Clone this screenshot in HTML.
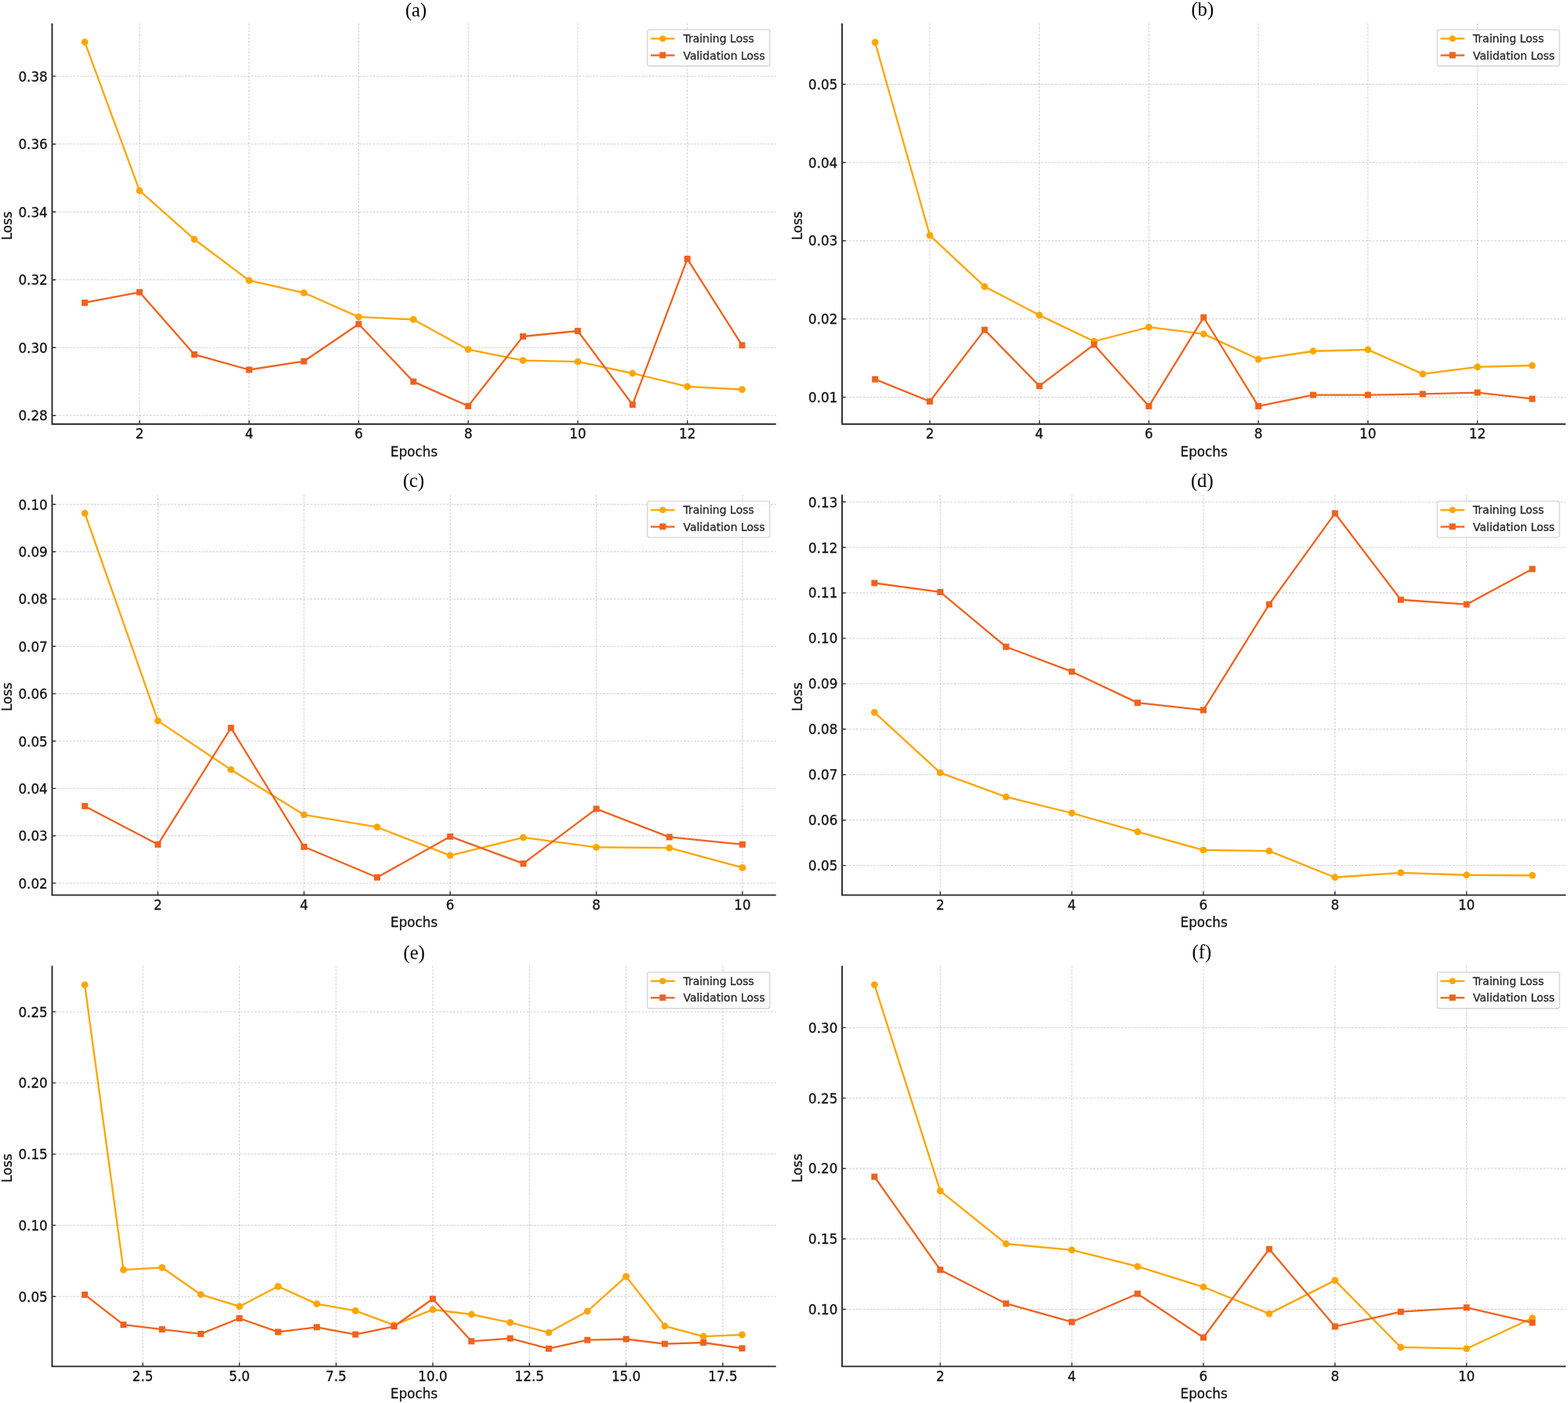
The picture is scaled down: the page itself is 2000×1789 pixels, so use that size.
<!DOCTYPE html>
<html><head><meta charset="utf-8"><title>Training and Validation Loss</title>
<style>
html,body{margin:0;padding:0;background:#fff;}
svg{display:block;}
.grid{fill:none;stroke:#c4c4c4;stroke-width:0.85;stroke-dasharray:2.7 1.75;}
.trl{fill:none;stroke:#FFA500;stroke-width:2.3;stroke-linejoin:round;stroke-linecap:square;}
.val{fill:none;stroke:#F0621E;stroke-width:2.3;stroke-linejoin:round;stroke-linecap:square;}
.trm{fill:#FFA500;}
.vam{fill:#F0621E;}
.spine{fill:none;stroke:#262626;stroke-width:1.9;stroke-linecap:butt;stroke-linejoin:miter;}
.tick{fill:none;stroke:#333333;stroke-width:1.4;}
.tl{font-family:"DejaVu Sans","Liberation Sans",sans-serif;font-size:16.8px;fill:#111111;stroke:#111111;stroke-width:0.3px;}
.al{font-family:"DejaVu Sans","Liberation Sans",sans-serif;font-size:16.8px;fill:#111111;stroke:#111111;stroke-width:0.3px;}
.lt{font-family:"DejaVu Sans","Liberation Sans",sans-serif;font-size:14.0px;fill:#262626;stroke:#262626;stroke-width:0.3px;}
.leg{fill:#fff;fill-opacity:0.8;stroke:#cccccc;stroke-width:1.1;}
.ti{font-family:"Liberation Serif","Times New Roman",serif;font-size:26px;fill:#000;}
</style></head>
<body>
<svg width="2000" height="1789" viewBox="0 0 2000 1789">
<defs><clipPath id="clipa"><rect x="66.45" y="29.75" width="923.35" height="511"/></clipPath><clipPath id="clipb"><rect x="1074.1" y="29.75" width="923.1" height="511"/></clipPath><clipPath id="clipc"><rect x="66.45" y="630.85" width="923.35" height="510.55"/></clipPath><clipPath id="clipd"><rect x="1074.1" y="630.85" width="923.1" height="510.55"/></clipPath><clipPath id="clipe"><rect x="66.45" y="1231.5" width="923.35" height="510.9"/></clipPath><clipPath id="clipf"><rect x="1074.1" y="1231.5" width="923.1" height="510.9"/></clipPath></defs>
<rect width="2000" height="1789" fill="#fff"/>
<path class="grid" d="M178 29.75V540.75M317.74 29.75V540.75M457.48 29.75V540.75M597.22 29.75V540.75M736.96 29.75V540.75M876.7 29.75V540.75M66.45 529.8H989.8M66.45 443.27H989.8M66.45 356.74H989.8M66.45 270.21H989.8M66.45 183.68H989.8M66.45 97.15H989.8"/>
<g clip-path="url(#clipa)"><path class="trl" d="M108.13 53.7L178 243.1L247.87 305.1L317.74 357.6L387.61 373.3L457.48 404.1L527.35 407.4L597.22 445.7L667.09 459.6L736.96 461.2L806.83 476L876.7 492.9L946.57 496.7"/>
<circle class="trm" cx="108.13" cy="53.7" r="4.4"/>
<circle class="trm" cx="178" cy="243.1" r="4.4"/>
<circle class="trm" cx="247.87" cy="305.1" r="4.4"/>
<circle class="trm" cx="317.74" cy="357.6" r="4.4"/>
<circle class="trm" cx="387.61" cy="373.3" r="4.4"/>
<circle class="trm" cx="457.48" cy="404.1" r="4.4"/>
<circle class="trm" cx="527.35" cy="407.4" r="4.4"/>
<circle class="trm" cx="597.22" cy="445.7" r="4.4"/>
<circle class="trm" cx="667.09" cy="459.6" r="4.4"/>
<circle class="trm" cx="736.96" cy="461.2" r="4.4"/>
<circle class="trm" cx="806.83" cy="476" r="4.4"/>
<circle class="trm" cx="876.7" cy="492.9" r="4.4"/>
<circle class="trm" cx="946.57" cy="496.7" r="4.4"/>
</g>
<g clip-path="url(#clipa)"><path class="val" d="M108.13 386L178 372.6L247.87 452L317.74 471.5L387.61 460.7L457.48 413.3L527.35 486.6L597.22 517.8L667.09 429L736.96 422L806.83 516L876.7 330.1L946.57 440.3"/>
<rect class="vam" x="104.13" y="382" width="8.0" height="8.0"/>
<rect class="vam" x="174" y="368.6" width="8.0" height="8.0"/>
<rect class="vam" x="243.87" y="448" width="8.0" height="8.0"/>
<rect class="vam" x="313.74" y="467.5" width="8.0" height="8.0"/>
<rect class="vam" x="383.61" y="456.7" width="8.0" height="8.0"/>
<rect class="vam" x="453.48" y="409.3" width="8.0" height="8.0"/>
<rect class="vam" x="523.35" y="482.6" width="8.0" height="8.0"/>
<rect class="vam" x="593.22" y="513.8" width="8.0" height="8.0"/>
<rect class="vam" x="663.09" y="425" width="8.0" height="8.0"/>
<rect class="vam" x="732.96" y="418" width="8.0" height="8.0"/>
<rect class="vam" x="802.83" y="512" width="8.0" height="8.0"/>
<rect class="vam" x="872.7" y="326.1" width="8.0" height="8.0"/>
<rect class="vam" x="942.57" y="436.3" width="8.0" height="8.0"/>
</g>
<path class="spine" d="M66.45 29.75V540.75H989.8"/>
<path class="tick" d="M178 540.75v-4.8M317.74 540.75v-4.8M457.48 540.75v-4.8M597.22 540.75v-4.8M736.96 540.75v-4.8M876.7 540.75v-4.8M66.45 529.8h4.6M66.45 443.27h4.6M66.45 356.74h4.6M66.45 270.21h4.6M66.45 183.68h4.6M66.45 97.15h4.6"/>
<text class="tl" x="178" y="558.95" text-anchor="middle">2</text>
<text class="tl" x="317.74" y="558.95" text-anchor="middle">4</text>
<text class="tl" x="457.48" y="558.95" text-anchor="middle">6</text>
<text class="tl" x="597.22" y="558.95" text-anchor="middle">8</text>
<text class="tl" x="736.96" y="558.95" text-anchor="middle">10</text>
<text class="tl" x="876.7" y="558.95" text-anchor="middle">12</text>
<text class="tl" x="60.8" y="536.3" text-anchor="end">0.28</text>
<text class="tl" x="60.8" y="449.77" text-anchor="end">0.30</text>
<text class="tl" x="60.8" y="363.24" text-anchor="end">0.32</text>
<text class="tl" x="60.8" y="276.71" text-anchor="end">0.34</text>
<text class="tl" x="60.8" y="190.18" text-anchor="end">0.36</text>
<text class="tl" x="60.8" y="103.65" text-anchor="end">0.38</text>
<text class="al" x="528.12" y="581.75" text-anchor="middle">Epochs</text>
<text class="al" x="15.25" y="287.8" text-anchor="middle" transform="rotate(-90 15.25 287.8)">Loss</text>
<rect class="leg" x="825.8" y="37.95" width="156" height="46.2" rx="2.4" ry="2.4"/>
<path class="trl" style="stroke-linecap:butt" d="M830 49.25H860.6"/>
<circle class="trm" cx="845.3" cy="49.25" r="4.0"/>
<path class="val" style="stroke-linecap:butt" d="M830 70.55H860.6"/>
<rect class="vam" x="841.3" y="66.35" width="8.0" height="8.0"/>
<text class="lt" x="871.4" y="54.35">Training Loss</text>
<text class="lt" x="871.4" y="75.65">Validation Loss</text>
<path class="grid" d="M1186 29.75V540.75M1325.7 29.75V540.75M1465.4 29.75V540.75M1605.1 29.75V540.75M1744.8 29.75V540.75M1884.5 29.75V540.75M1074.1 506.45H1997.2M1074.1 406.7H1997.2M1074.1 306.95H1997.2M1074.1 207.2H1997.2M1074.1 107.45H1997.2"/>
<g clip-path="url(#clipb)"><path class="trl" d="M1116.15 53.85L1186 300.15L1255.85 365.45L1325.7 401.85L1395.55 435.25L1465.4 417.15L1535.25 425.85L1605.1 458.05L1674.95 447.75L1744.8 445.85L1814.65 476.85L1884.5 467.95L1954.35 466.05"/>
<circle class="trm" cx="1116.15" cy="53.85" r="4.4"/>
<circle class="trm" cx="1186" cy="300.15" r="4.4"/>
<circle class="trm" cx="1255.85" cy="365.45" r="4.4"/>
<circle class="trm" cx="1325.7" cy="401.85" r="4.4"/>
<circle class="trm" cx="1395.55" cy="435.25" r="4.4"/>
<circle class="trm" cx="1465.4" cy="417.15" r="4.4"/>
<circle class="trm" cx="1535.25" cy="425.85" r="4.4"/>
<circle class="trm" cx="1605.1" cy="458.05" r="4.4"/>
<circle class="trm" cx="1674.95" cy="447.75" r="4.4"/>
<circle class="trm" cx="1744.8" cy="445.85" r="4.4"/>
<circle class="trm" cx="1814.65" cy="476.85" r="4.4"/>
<circle class="trm" cx="1884.5" cy="467.95" r="4.4"/>
<circle class="trm" cx="1954.35" cy="466.05" r="4.4"/>
</g>
<g clip-path="url(#clipb)"><path class="val" d="M1116.15 483.65L1186 511.85L1255.85 420.65L1325.7 492.15L1395.55 439.45L1465.4 517.95L1535.25 404.75L1605.1 517.95L1674.95 503.65L1744.8 503.65L1814.65 502.45L1884.5 500.55L1954.35 508.55"/>
<rect class="vam" x="1112.15" y="479.65" width="8.0" height="8.0"/>
<rect class="vam" x="1182" y="507.85" width="8.0" height="8.0"/>
<rect class="vam" x="1251.85" y="416.65" width="8.0" height="8.0"/>
<rect class="vam" x="1321.7" y="488.15" width="8.0" height="8.0"/>
<rect class="vam" x="1391.55" y="435.45" width="8.0" height="8.0"/>
<rect class="vam" x="1461.4" y="513.95" width="8.0" height="8.0"/>
<rect class="vam" x="1531.25" y="400.75" width="8.0" height="8.0"/>
<rect class="vam" x="1601.1" y="513.95" width="8.0" height="8.0"/>
<rect class="vam" x="1670.95" y="499.65" width="8.0" height="8.0"/>
<rect class="vam" x="1740.8" y="499.65" width="8.0" height="8.0"/>
<rect class="vam" x="1810.65" y="498.45" width="8.0" height="8.0"/>
<rect class="vam" x="1880.5" y="496.55" width="8.0" height="8.0"/>
<rect class="vam" x="1950.35" y="504.55" width="8.0" height="8.0"/>
</g>
<path class="spine" d="M1074.1 29.75V540.75H1997.2"/>
<path class="tick" d="M1186 540.75v-4.8M1325.7 540.75v-4.8M1465.4 540.75v-4.8M1605.1 540.75v-4.8M1744.8 540.75v-4.8M1884.5 540.75v-4.8M1074.1 506.45h4.6M1074.1 406.7h4.6M1074.1 306.95h4.6M1074.1 207.2h4.6M1074.1 107.45h4.6"/>
<text class="tl" x="1186" y="558.95" text-anchor="middle">2</text>
<text class="tl" x="1325.7" y="558.95" text-anchor="middle">4</text>
<text class="tl" x="1465.4" y="558.95" text-anchor="middle">6</text>
<text class="tl" x="1605.1" y="558.95" text-anchor="middle">8</text>
<text class="tl" x="1744.8" y="558.95" text-anchor="middle">10</text>
<text class="tl" x="1884.5" y="558.95" text-anchor="middle">12</text>
<text class="tl" x="1068.45" y="512.95" text-anchor="end">0.01</text>
<text class="tl" x="1068.45" y="413.2" text-anchor="end">0.02</text>
<text class="tl" x="1068.45" y="313.45" text-anchor="end">0.03</text>
<text class="tl" x="1068.45" y="213.7" text-anchor="end">0.04</text>
<text class="tl" x="1068.45" y="113.95" text-anchor="end">0.05</text>
<text class="al" x="1535.65" y="581.75" text-anchor="middle">Epochs</text>
<text class="al" x="1022.9" y="287.8" text-anchor="middle" transform="rotate(-90 1022.9 287.8)">Loss</text>
<rect class="leg" x="1833.2" y="37.95" width="156" height="46.2" rx="2.4" ry="2.4"/>
<path class="trl" style="stroke-linecap:butt" d="M1837.4 49.25H1868"/>
<circle class="trm" cx="1852.7" cy="49.25" r="4.0"/>
<path class="val" style="stroke-linecap:butt" d="M1837.4 70.55H1868"/>
<rect class="vam" x="1848.7" y="66.35" width="8.0" height="8.0"/>
<text class="lt" x="1878.8" y="54.35">Training Loss</text>
<text class="lt" x="1878.8" y="75.65">Validation Loss</text>
<path class="grid" d="M201.4 630.85V1141.4M387.8 630.85V1141.4M574.2 630.85V1141.4M760.6 630.85V1141.4M947 630.85V1141.4M66.45 1126.1H989.8M66.45 1065.74H989.8M66.45 1005.38H989.8M66.45 945.01H989.8M66.45 884.65H989.8M66.45 824.29H989.8M66.45 763.92H989.8M66.45 703.56H989.8M66.45 643.2H989.8"/>
<g clip-path="url(#clipc)"><path class="trl" d="M108.2 654.5L201.4 919.1L294.6 981.4L387.8 1038.9L481 1054.7L574.2 1090.9L667.4 1067.8L760.6 1080.3L853.8 1081.2L947 1106.4"/>
<circle class="trm" cx="108.2" cy="654.5" r="4.4"/>
<circle class="trm" cx="201.4" cy="919.1" r="4.4"/>
<circle class="trm" cx="294.6" cy="981.4" r="4.4"/>
<circle class="trm" cx="387.8" cy="1038.9" r="4.4"/>
<circle class="trm" cx="481" cy="1054.7" r="4.4"/>
<circle class="trm" cx="574.2" cy="1090.9" r="4.4"/>
<circle class="trm" cx="667.4" cy="1067.8" r="4.4"/>
<circle class="trm" cx="760.6" cy="1080.3" r="4.4"/>
<circle class="trm" cx="853.8" cy="1081.2" r="4.4"/>
<circle class="trm" cx="947" cy="1106.4" r="4.4"/>
</g>
<g clip-path="url(#clipc)"><path class="val" d="M108.2 1027.9L201.4 1076.8L294.6 928.2L387.8 1079.8L481 1118.8L574.2 1066.7L667.4 1101.2L760.6 1031.4L853.8 1067.4L947 1076.8"/>
<rect class="vam" x="104.2" y="1023.9" width="8.0" height="8.0"/>
<rect class="vam" x="197.4" y="1072.8" width="8.0" height="8.0"/>
<rect class="vam" x="290.6" y="924.2" width="8.0" height="8.0"/>
<rect class="vam" x="383.8" y="1075.8" width="8.0" height="8.0"/>
<rect class="vam" x="477" y="1114.8" width="8.0" height="8.0"/>
<rect class="vam" x="570.2" y="1062.7" width="8.0" height="8.0"/>
<rect class="vam" x="663.4" y="1097.2" width="8.0" height="8.0"/>
<rect class="vam" x="756.6" y="1027.4" width="8.0" height="8.0"/>
<rect class="vam" x="849.8" y="1063.4" width="8.0" height="8.0"/>
<rect class="vam" x="943" y="1072.8" width="8.0" height="8.0"/>
</g>
<path class="spine" d="M66.45 630.85V1141.4H989.8"/>
<path class="tick" d="M201.4 1141.4v-4.8M387.8 1141.4v-4.8M574.2 1141.4v-4.8M760.6 1141.4v-4.8M947 1141.4v-4.8M66.45 1126.1h4.6M66.45 1065.74h4.6M66.45 1005.38h4.6M66.45 945.01h4.6M66.45 884.65h4.6M66.45 824.29h4.6M66.45 763.92h4.6M66.45 703.56h4.6M66.45 643.2h4.6"/>
<text class="tl" x="201.4" y="1159.6" text-anchor="middle">2</text>
<text class="tl" x="387.8" y="1159.6" text-anchor="middle">4</text>
<text class="tl" x="574.2" y="1159.6" text-anchor="middle">6</text>
<text class="tl" x="760.6" y="1159.6" text-anchor="middle">8</text>
<text class="tl" x="947" y="1159.6" text-anchor="middle">10</text>
<text class="tl" x="60.8" y="1132.6" text-anchor="end">0.02</text>
<text class="tl" x="60.8" y="1072.24" text-anchor="end">0.03</text>
<text class="tl" x="60.8" y="1011.88" text-anchor="end">0.04</text>
<text class="tl" x="60.8" y="951.51" text-anchor="end">0.05</text>
<text class="tl" x="60.8" y="891.15" text-anchor="end">0.06</text>
<text class="tl" x="60.8" y="830.79" text-anchor="end">0.07</text>
<text class="tl" x="60.8" y="770.42" text-anchor="end">0.08</text>
<text class="tl" x="60.8" y="710.06" text-anchor="end">0.09</text>
<text class="tl" x="60.8" y="649.7" text-anchor="end">0.10</text>
<text class="al" x="528.12" y="1182.4" text-anchor="middle">Epochs</text>
<text class="al" x="15.25" y="888.67" text-anchor="middle" transform="rotate(-90 15.25 888.67)">Loss</text>
<rect class="leg" x="825.8" y="639.05" width="156" height="46.2" rx="2.4" ry="2.4"/>
<path class="trl" style="stroke-linecap:butt" d="M830 650.35H860.6"/>
<circle class="trm" cx="845.3" cy="650.35" r="4.0"/>
<path class="val" style="stroke-linecap:butt" d="M830 671.65H860.6"/>
<rect class="vam" x="841.3" y="667.45" width="8.0" height="8.0"/>
<text class="lt" x="871.4" y="655.45">Training Loss</text>
<text class="lt" x="871.4" y="676.75">Validation Loss</text>
<path class="grid" d="M1199.3 630.85V1141.4M1367.12 630.85V1141.4M1534.95 630.85V1141.4M1702.77 630.85V1141.4M1870.6 630.85V1141.4M1074.1 1103.65H1997.2M1074.1 1045.7H1997.2M1074.1 987.75H1997.2M1074.1 929.8H1997.2M1074.1 871.85H1997.2M1074.1 813.9H1997.2M1074.1 755.95H1997.2M1074.1 698H1997.2M1074.1 640.05H1997.2"/>
<g clip-path="url(#clipd)"><path class="trl" d="M1115.39 908.45L1199.3 985.45L1283.21 1016.05L1367.12 1036.75L1451.04 1060.65L1534.95 1083.95L1618.86 1085.15L1702.77 1118.75L1786.69 1112.95L1870.6 1115.75L1954.51 1116.25"/>
<circle class="trm" cx="1115.39" cy="908.45" r="4.4"/>
<circle class="trm" cx="1199.3" cy="985.45" r="4.4"/>
<circle class="trm" cx="1283.21" cy="1016.05" r="4.4"/>
<circle class="trm" cx="1367.12" cy="1036.75" r="4.4"/>
<circle class="trm" cx="1451.04" cy="1060.65" r="4.4"/>
<circle class="trm" cx="1534.95" cy="1083.95" r="4.4"/>
<circle class="trm" cx="1618.86" cy="1085.15" r="4.4"/>
<circle class="trm" cx="1702.77" cy="1118.75" r="4.4"/>
<circle class="trm" cx="1786.69" cy="1112.95" r="4.4"/>
<circle class="trm" cx="1870.6" cy="1115.75" r="4.4"/>
<circle class="trm" cx="1954.51" cy="1116.25" r="4.4"/>
</g>
<g clip-path="url(#clipd)"><path class="val" d="M1115.39 743.45L1199.3 754.95L1283.21 824.75L1367.12 856.45L1451.04 896.15L1534.95 905.45L1618.86 770.65L1702.77 654.55L1786.69 764.75L1870.6 770.65L1954.51 725.55"/>
<rect class="vam" x="1111.39" y="739.45" width="8.0" height="8.0"/>
<rect class="vam" x="1195.3" y="750.95" width="8.0" height="8.0"/>
<rect class="vam" x="1279.21" y="820.75" width="8.0" height="8.0"/>
<rect class="vam" x="1363.12" y="852.45" width="8.0" height="8.0"/>
<rect class="vam" x="1447.04" y="892.15" width="8.0" height="8.0"/>
<rect class="vam" x="1530.95" y="901.45" width="8.0" height="8.0"/>
<rect class="vam" x="1614.86" y="766.65" width="8.0" height="8.0"/>
<rect class="vam" x="1698.77" y="650.55" width="8.0" height="8.0"/>
<rect class="vam" x="1782.69" y="760.75" width="8.0" height="8.0"/>
<rect class="vam" x="1866.6" y="766.65" width="8.0" height="8.0"/>
<rect class="vam" x="1950.51" y="721.55" width="8.0" height="8.0"/>
</g>
<path class="spine" d="M1074.1 630.85V1141.4H1997.2"/>
<path class="tick" d="M1199.3 1141.4v-4.8M1367.12 1141.4v-4.8M1534.95 1141.4v-4.8M1702.77 1141.4v-4.8M1870.6 1141.4v-4.8M1074.1 1103.65h4.6M1074.1 1045.7h4.6M1074.1 987.75h4.6M1074.1 929.8h4.6M1074.1 871.85h4.6M1074.1 813.9h4.6M1074.1 755.95h4.6M1074.1 698h4.6M1074.1 640.05h4.6"/>
<text class="tl" x="1199.3" y="1159.6" text-anchor="middle">2</text>
<text class="tl" x="1367.12" y="1159.6" text-anchor="middle">4</text>
<text class="tl" x="1534.95" y="1159.6" text-anchor="middle">6</text>
<text class="tl" x="1702.77" y="1159.6" text-anchor="middle">8</text>
<text class="tl" x="1870.6" y="1159.6" text-anchor="middle">10</text>
<text class="tl" x="1068.45" y="1110.15" text-anchor="end">0.05</text>
<text class="tl" x="1068.45" y="1052.2" text-anchor="end">0.06</text>
<text class="tl" x="1068.45" y="994.25" text-anchor="end">0.07</text>
<text class="tl" x="1068.45" y="936.3" text-anchor="end">0.08</text>
<text class="tl" x="1068.45" y="878.35" text-anchor="end">0.09</text>
<text class="tl" x="1068.45" y="820.4" text-anchor="end">0.10</text>
<text class="tl" x="1068.45" y="762.45" text-anchor="end">0.11</text>
<text class="tl" x="1068.45" y="704.5" text-anchor="end">0.12</text>
<text class="tl" x="1068.45" y="646.55" text-anchor="end">0.13</text>
<text class="al" x="1535.65" y="1182.4" text-anchor="middle">Epochs</text>
<text class="al" x="1022.9" y="888.67" text-anchor="middle" transform="rotate(-90 1022.9 888.67)">Loss</text>
<rect class="leg" x="1833.2" y="639.05" width="156" height="46.2" rx="2.4" ry="2.4"/>
<path class="trl" style="stroke-linecap:butt" d="M1837.4 650.35H1868"/>
<circle class="trm" cx="1852.7" cy="650.35" r="4.0"/>
<path class="val" style="stroke-linecap:butt" d="M1837.4 671.65H1868"/>
<rect class="vam" x="1848.7" y="667.45" width="8.0" height="8.0"/>
<text class="lt" x="1878.8" y="655.45">Training Loss</text>
<text class="lt" x="1878.8" y="676.75">Validation Loss</text>
<path class="grid" d="M182.1 1231.5V1742.4M305.4 1231.5V1742.4M428.7 1231.5V1742.4M552 1231.5V1742.4M675.3 1231.5V1742.4M798.6 1231.5V1742.4M921.9 1231.5V1742.4M66.45 1653.2H989.8M66.45 1562.42H989.8M66.45 1471.65H989.8M66.45 1380.88H989.8M66.45 1290.1H989.8"/>
<g clip-path="url(#clipe)"><path class="trl" d="M108.12 1255.8L157.44 1619.2L206.76 1616.3L256.08 1650.7L305.4 1665.9L354.72 1640.3L404.04 1662.6L453.36 1671.3L502.68 1689.7L552 1669.9L601.32 1676L650.64 1686.4L699.96 1699.1L749.28 1672L798.6 1627.6L847.92 1690.8L897.24 1704.2L946.56 1701.9"/>
<circle class="trm" cx="108.12" cy="1255.8" r="4.4"/>
<circle class="trm" cx="157.44" cy="1619.2" r="4.4"/>
<circle class="trm" cx="206.76" cy="1616.3" r="4.4"/>
<circle class="trm" cx="256.08" cy="1650.7" r="4.4"/>
<circle class="trm" cx="305.4" cy="1665.9" r="4.4"/>
<circle class="trm" cx="354.72" cy="1640.3" r="4.4"/>
<circle class="trm" cx="404.04" cy="1662.6" r="4.4"/>
<circle class="trm" cx="453.36" cy="1671.3" r="4.4"/>
<circle class="trm" cx="502.68" cy="1689.7" r="4.4"/>
<circle class="trm" cx="552" cy="1669.9" r="4.4"/>
<circle class="trm" cx="601.32" cy="1676" r="4.4"/>
<circle class="trm" cx="650.64" cy="1686.4" r="4.4"/>
<circle class="trm" cx="699.96" cy="1699.1" r="4.4"/>
<circle class="trm" cx="749.28" cy="1672" r="4.4"/>
<circle class="trm" cx="798.6" cy="1627.6" r="4.4"/>
<circle class="trm" cx="847.92" cy="1690.8" r="4.4"/>
<circle class="trm" cx="897.24" cy="1704.2" r="4.4"/>
<circle class="trm" cx="946.56" cy="1701.9" r="4.4"/>
</g>
<g clip-path="url(#clipe)"><path class="val" d="M108.12 1650.9L157.44 1689.2L206.76 1695.1L256.08 1700.9L305.4 1681L354.72 1698.4L404.04 1692.3L453.36 1701.6L502.68 1691.3L552 1656.3L601.32 1710.3L650.64 1706.6L699.96 1719.7L749.28 1708.7L798.6 1707.5L847.92 1713.6L897.24 1712L946.56 1719.3"/>
<rect class="vam" x="104.12" y="1646.9" width="8.0" height="8.0"/>
<rect class="vam" x="153.44" y="1685.2" width="8.0" height="8.0"/>
<rect class="vam" x="202.76" y="1691.1" width="8.0" height="8.0"/>
<rect class="vam" x="252.08" y="1696.9" width="8.0" height="8.0"/>
<rect class="vam" x="301.4" y="1677" width="8.0" height="8.0"/>
<rect class="vam" x="350.72" y="1694.4" width="8.0" height="8.0"/>
<rect class="vam" x="400.04" y="1688.3" width="8.0" height="8.0"/>
<rect class="vam" x="449.36" y="1697.6" width="8.0" height="8.0"/>
<rect class="vam" x="498.68" y="1687.3" width="8.0" height="8.0"/>
<rect class="vam" x="548" y="1652.3" width="8.0" height="8.0"/>
<rect class="vam" x="597.32" y="1706.3" width="8.0" height="8.0"/>
<rect class="vam" x="646.64" y="1702.6" width="8.0" height="8.0"/>
<rect class="vam" x="695.96" y="1715.7" width="8.0" height="8.0"/>
<rect class="vam" x="745.28" y="1704.7" width="8.0" height="8.0"/>
<rect class="vam" x="794.6" y="1703.5" width="8.0" height="8.0"/>
<rect class="vam" x="843.92" y="1709.6" width="8.0" height="8.0"/>
<rect class="vam" x="893.24" y="1708" width="8.0" height="8.0"/>
<rect class="vam" x="942.56" y="1715.3" width="8.0" height="8.0"/>
</g>
<path class="spine" d="M66.45 1231.5V1742.4H989.8"/>
<path class="tick" d="M182.1 1742.4v-4.8M305.4 1742.4v-4.8M428.7 1742.4v-4.8M552 1742.4v-4.8M675.3 1742.4v-4.8M798.6 1742.4v-4.8M921.9 1742.4v-4.8M66.45 1653.2h4.6M66.45 1562.42h4.6M66.45 1471.65h4.6M66.45 1380.88h4.6M66.45 1290.1h4.6"/>
<text class="tl" x="182.1" y="1760.6" text-anchor="middle">2.5</text>
<text class="tl" x="305.4" y="1760.6" text-anchor="middle">5.0</text>
<text class="tl" x="428.7" y="1760.6" text-anchor="middle">7.5</text>
<text class="tl" x="552" y="1760.6" text-anchor="middle">10.0</text>
<text class="tl" x="675.3" y="1760.6" text-anchor="middle">12.5</text>
<text class="tl" x="798.6" y="1760.6" text-anchor="middle">15.0</text>
<text class="tl" x="921.9" y="1760.6" text-anchor="middle">17.5</text>
<text class="tl" x="60.8" y="1659.7" text-anchor="end">0.05</text>
<text class="tl" x="60.8" y="1568.92" text-anchor="end">0.10</text>
<text class="tl" x="60.8" y="1478.15" text-anchor="end">0.15</text>
<text class="tl" x="60.8" y="1387.38" text-anchor="end">0.20</text>
<text class="tl" x="60.8" y="1296.6" text-anchor="end">0.25</text>
<text class="al" x="528.12" y="1783.4" text-anchor="middle">Epochs</text>
<text class="al" x="15.25" y="1489.5" text-anchor="middle" transform="rotate(-90 15.25 1489.5)">Loss</text>
<rect class="leg" x="825.8" y="1239.7" width="156" height="46.2" rx="2.4" ry="2.4"/>
<path class="trl" style="stroke-linecap:butt" d="M830 1251H860.6"/>
<circle class="trm" cx="845.3" cy="1251" r="4.0"/>
<path class="val" style="stroke-linecap:butt" d="M830 1272.3H860.6"/>
<rect class="vam" x="841.3" y="1268.1" width="8.0" height="8.0"/>
<text class="lt" x="871.4" y="1256.1">Training Loss</text>
<text class="lt" x="871.4" y="1277.4">Validation Loss</text>
<path class="grid" d="M1199.3 1231.5V1742.4M1367.12 1231.5V1742.4M1534.95 1231.5V1742.4M1702.77 1231.5V1742.4M1870.6 1231.5V1742.4M1074.1 1669.5H1997.2M1074.1 1579.72H1997.2M1074.1 1489.95H1997.2M1074.1 1400.17H1997.2M1074.1 1310.4H1997.2"/>
<g clip-path="url(#clipf)"><path class="trl" d="M1115.39 1255.6L1199.3 1518.6L1283.21 1586L1367.12 1593.8L1451.04 1614.9L1534.95 1641L1618.86 1675.1L1702.77 1632.6L1786.69 1717.9L1870.6 1719.7L1954.51 1680.7"/>
<circle class="trm" cx="1115.39" cy="1255.6" r="4.4"/>
<circle class="trm" cx="1199.3" cy="1518.6" r="4.4"/>
<circle class="trm" cx="1283.21" cy="1586" r="4.4"/>
<circle class="trm" cx="1367.12" cy="1593.8" r="4.4"/>
<circle class="trm" cx="1451.04" cy="1614.9" r="4.4"/>
<circle class="trm" cx="1534.95" cy="1641" r="4.4"/>
<circle class="trm" cx="1618.86" cy="1675.1" r="4.4"/>
<circle class="trm" cx="1702.77" cy="1632.6" r="4.4"/>
<circle class="trm" cx="1786.69" cy="1717.9" r="4.4"/>
<circle class="trm" cx="1870.6" cy="1719.7" r="4.4"/>
<circle class="trm" cx="1954.51" cy="1680.7" r="4.4"/>
</g>
<g clip-path="url(#clipf)"><path class="val" d="M1115.39 1500.5L1199.3 1619.2L1283.21 1662.2L1367.12 1685.7L1451.04 1649.7L1534.95 1705.5L1618.86 1592.8L1702.77 1691.5L1786.69 1672.7L1870.6 1667.3L1954.51 1686.6"/>
<rect class="vam" x="1111.39" y="1496.5" width="8.0" height="8.0"/>
<rect class="vam" x="1195.3" y="1615.2" width="8.0" height="8.0"/>
<rect class="vam" x="1279.21" y="1658.2" width="8.0" height="8.0"/>
<rect class="vam" x="1363.12" y="1681.7" width="8.0" height="8.0"/>
<rect class="vam" x="1447.04" y="1645.7" width="8.0" height="8.0"/>
<rect class="vam" x="1530.95" y="1701.5" width="8.0" height="8.0"/>
<rect class="vam" x="1614.86" y="1588.8" width="8.0" height="8.0"/>
<rect class="vam" x="1698.77" y="1687.5" width="8.0" height="8.0"/>
<rect class="vam" x="1782.69" y="1668.7" width="8.0" height="8.0"/>
<rect class="vam" x="1866.6" y="1663.3" width="8.0" height="8.0"/>
<rect class="vam" x="1950.51" y="1682.6" width="8.0" height="8.0"/>
</g>
<path class="spine" d="M1074.1 1231.5V1742.4H1997.2"/>
<path class="tick" d="M1199.3 1742.4v-4.8M1367.12 1742.4v-4.8M1534.95 1742.4v-4.8M1702.77 1742.4v-4.8M1870.6 1742.4v-4.8M1074.1 1669.5h4.6M1074.1 1579.72h4.6M1074.1 1489.95h4.6M1074.1 1400.17h4.6M1074.1 1310.4h4.6"/>
<text class="tl" x="1199.3" y="1760.6" text-anchor="middle">2</text>
<text class="tl" x="1367.12" y="1760.6" text-anchor="middle">4</text>
<text class="tl" x="1534.95" y="1760.6" text-anchor="middle">6</text>
<text class="tl" x="1702.77" y="1760.6" text-anchor="middle">8</text>
<text class="tl" x="1870.6" y="1760.6" text-anchor="middle">10</text>
<text class="tl" x="1068.45" y="1676" text-anchor="end">0.10</text>
<text class="tl" x="1068.45" y="1586.22" text-anchor="end">0.15</text>
<text class="tl" x="1068.45" y="1496.45" text-anchor="end">0.20</text>
<text class="tl" x="1068.45" y="1406.67" text-anchor="end">0.25</text>
<text class="tl" x="1068.45" y="1316.9" text-anchor="end">0.30</text>
<text class="al" x="1535.65" y="1783.4" text-anchor="middle">Epochs</text>
<text class="al" x="1022.9" y="1489.5" text-anchor="middle" transform="rotate(-90 1022.9 1489.5)">Loss</text>
<rect class="leg" x="1833.2" y="1239.7" width="156" height="46.2" rx="2.4" ry="2.4"/>
<path class="trl" style="stroke-linecap:butt" d="M1837.4 1251H1868"/>
<circle class="trm" cx="1852.7" cy="1251" r="4.0"/>
<path class="val" style="stroke-linecap:butt" d="M1837.4 1272.3H1868"/>
<rect class="vam" x="1848.7" y="1268.1" width="8.0" height="8.0"/>
<text class="lt" x="1878.8" y="1256.1">Training Loss</text>
<text class="lt" x="1878.8" y="1277.4">Validation Loss</text>
<text class="ti" transform="translate(530.6 20.7) scale(0.95 1)" text-anchor="middle">(a)</text>
<text class="ti" transform="translate(1533.8 20.2) scale(0.95 1)" text-anchor="middle">(b)</text>
<text class="ti" transform="translate(527.6 620.6) scale(0.95 1)" text-anchor="middle">(c)</text>
<text class="ti" transform="translate(1533.3 621.1) scale(0.95 1)" text-anchor="middle">(d)</text>
<text class="ti" transform="translate(528.2 1222.7) scale(0.95 1)" text-anchor="middle">(e)</text>
<text class="ti" transform="translate(1532.9 1222.2) scale(0.95 1)" text-anchor="middle">(f)</text>
</svg>
</body></html>
